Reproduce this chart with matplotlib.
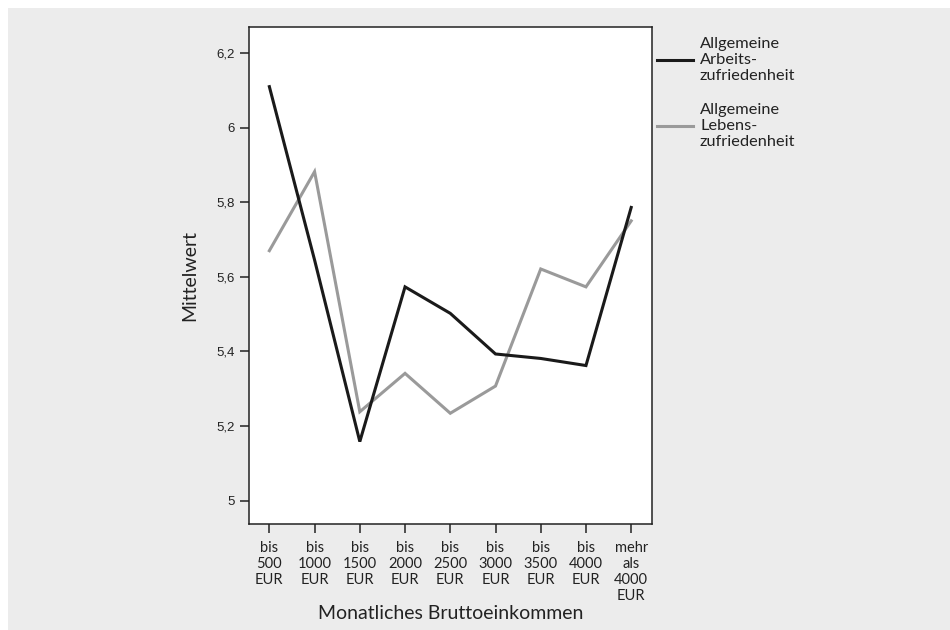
import matplotlib
matplotlib.use("Agg")
import matplotlib.pyplot as plt
from matplotlib.lines import Line2D
from matplotlib.patches import Rectangle

categories = ["bis\n500\nEUR", "bis\n1000\nEUR", "bis\n1500\nEUR", "bis\n2000\nEUR",
              "bis\n2500\nEUR", "bis\n3000\nEUR", "bis\n3500\nEUR", "bis\n4000\nEUR",
              "mehr\nals\n4000\nEUR"]
arbeit = [6.110, 5.645, 5.158, 5.573, 5.502, 5.393, 5.381, 5.362, 5.786]
leben = [5.670, 5.882, 5.238, 5.341, 5.234, 5.307, 5.621, 5.573, 5.750]
yticks = [5.0, 5.2, 5.4, 5.6, 5.8, 6.0, 6.2]
ytick_labels = ["5", "5,2", "5,4", "5,6", "5,8", "6", "6,2"]
legend_labels = ["Allgemeine\nArbeits-\nzufriedenheit", "Allgemeine\nLebens-\nzufriedenheit"]

BG = "#ececec"
BLACK = "#1a1a1a"
GRAY = "#9a9a9a"
TXT = "#222222"
W, H = 950, 630

fig = plt.figure(figsize=(9.5, 6.3), dpi=100, facecolor="white")
fig.patches.append(Rectangle((8 / W, 0), 1 - 8 / W, 1 - 8 / H, transform=fig.transFigure,
                             facecolor=BG, edgecolor="none", zorder=-10))

ax = fig.add_axes([249 / W, 1 - 524 / H, (652 - 249) / W, (524 - 27) / H])
ax.set_facecolor("white")
x = list(range(len(categories)))
ax.plot(x, leben, color=GRAY, lw=2.2, solid_joinstyle="miter")
ax.plot(x, arbeit, color=BLACK, lw=2.2, solid_joinstyle="miter")

ax.set_xlim(-0.45, 8.46)
ax.set_ylim(4.937, 6.27)
ax.set_yticks(yticks)
ax.set_yticklabels(ytick_labels, fontfamily="Liberation Sans", fontsize=9.5, color=TXT)
ax.set_xticks(x)
ax.set_xticklabels(categories, fontfamily="Lato", fontsize=10.5, color=TXT,
                   linespacing=1.2)
ax.tick_params(axis="y", direction="out", length=6.5, width=1.1, color=TXT, pad=4)
ax.tick_params(axis="x", direction="out", length=6.5, width=1.1, color=TXT, pad=5.5)
for s in ax.spines.values():
    s.set_color(TXT)
    s.set_linewidth(1.1)

ax.set_xlabel("Monatliches Bruttoeinkommen", fontfamily="Lato", fontsize=14,
              color=TXT, labelpad=1.5)
ax.set_ylabel("Mittelwert", fontfamily="Lato", fontsize=14, color=TXT, labelpad=13)

# legend
def fx(px):
    return px / W

def fy(py):
    return 1 - py / H

for lab, col, yc in zip(legend_labels, [BLACK, GRAY], [60, 126]):
    fig.add_artist(Line2D([fx(657), fx(693)], [fy(yc), fy(yc)], color=col, lw=2.2,
                          transform=fig.transFigure))
    fig.text(fx(700), fy(yc), lab, fontfamily="Lato", fontsize=11.8, color=TXT,
             va="center", ha="left", linespacing=1.2)

fig.savefig("out.png", dpi=100, facecolor=fig.get_facecolor())
